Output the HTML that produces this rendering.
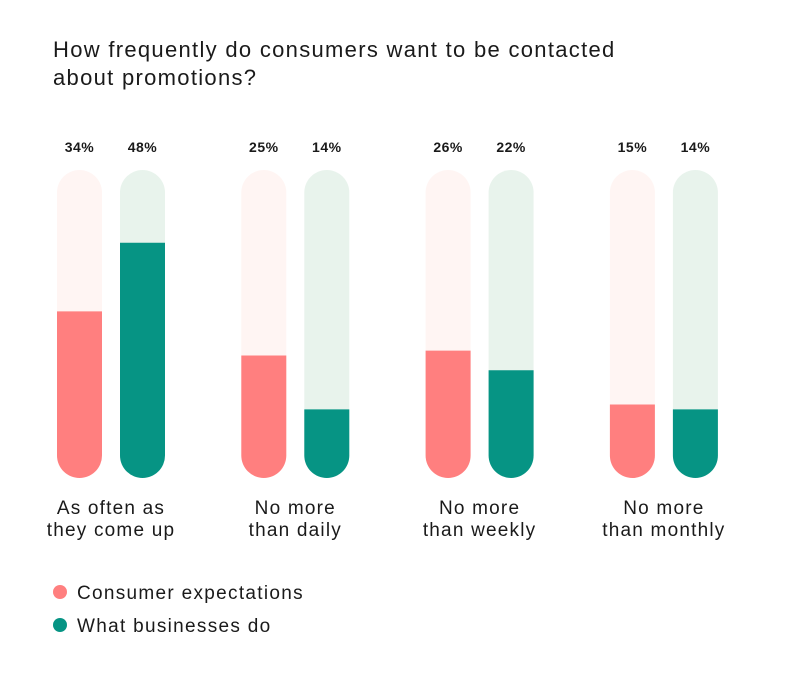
<!DOCTYPE html>
<html><head><meta charset="utf-8"><style>
body{margin:0;background:#fff;}
svg{display:block;font-family:"Liberation Sans",sans-serif;}
</style></head><body>
<svg id="chart" width="811" height="689" viewBox="0 0 811 689">
<text x="53" y="57" font-size="22" letter-spacing="1.3" fill="#1a1a1a">How frequently do consumers want to be contacted</text>
<text x="53" y="85" font-size="22" letter-spacing="1.3" fill="#1a1a1a">about promotions?</text>
<g id="bars"></g>
<g>
<circle cx="60" cy="592" r="7" fill="#ff7f7f"></circle>
<text x="77" y="599" font-size="19" letter-spacing="1.3" fill="#1a1a1a">Consumer expectations</text>
<circle cx="60" cy="625" r="7" fill="#069484"></circle>
<text x="77" y="632" font-size="19" letter-spacing="1.3" fill="#1a1a1a">What businesses do</text>
</g>
</svg>
<script>
const categories=[["As often as","they come up"],["No more","than daily"],["No more","than weekly"],["No more","than monthly"]];
const consumer=[34,25,26,15];
const business=[48,14,22,14];
const ns="http://www.w3.org/2000/svg";
const g=document.getElementById("bars");
const bottom=478, top0=170, pxPer=4.9, bw=45, r=22.5;
function y(v){return bottom-v*pxPer;}
function groupX(i){return 57+i*184.3;}
function mk(tag,attrs){const e=document.createElementNS(ns,tag);for(const k in attrs)e.setAttribute(k,attrs[k]);g.appendChild(e);return e;}
function bar(x,v,track,fill,name){
  const t=mk("rect",{x:x,y:top0,width:bw,height:bottom-top0,rx:r,fill:track});
  
  
  const yt=y(v);
  const p=mk("path",{d:`M${x},${yt}H${x+bw}V${bottom-r}A${r},${r} 0 0 1 ${x},${bottom-r}Z`,fill:fill});
  
  
  const l=mk("text",{x:x+bw/2,y:152,"text-anchor":"middle","font-size":14,"font-weight":"bold","letter-spacing":0.5,fill:"#1a1a1a"});
  l.textContent=v+"%";
  
  
}
categories.forEach((c,i)=>{
  const gx=groupX(i);
  bar(gx,consumer[i],"#fff5f3","#ff7f7f","bar-consumer-"+i);
  bar(gx+63,business[i],"#e8f3ec","#069484","bar-business-"+i);
  c.forEach((line,j)=>{
    const t=mk("text",{x:gx+54,y:514+j*22,"text-anchor":"middle","font-size":19,"letter-spacing":1.2,fill:"#1a1a1a"});
    t.textContent=line;
    
    
  });
});
</script>
</body></html>
